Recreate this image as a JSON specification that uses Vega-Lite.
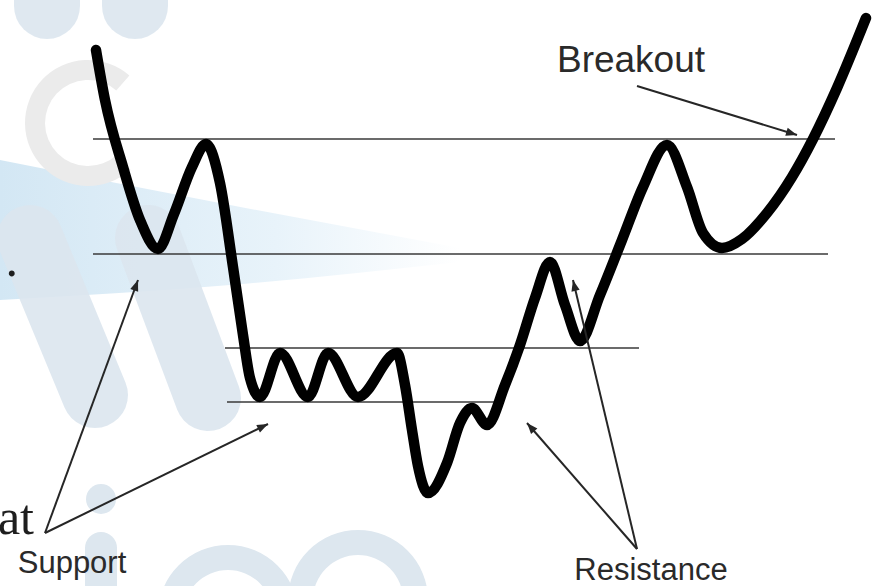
{
  "$schema": "https://vega.github.io/schema/vega-lite/v6.json",
  "width": 877,
  "height": 586,
  "autosize": {"type": "none"},
  "padding": 0,
  "background": "white",
  "config": {"view": {"stroke": null}},
  "datasets": {
    "curve": [
      {"x": 96, "y": 50}, {"x": 105, "y": 100}, {"x": 123, "y": 167}, {"x": 140, "y": 220}, {"x": 158, "y": 249},
      {"x": 174, "y": 214}, {"x": 192, "y": 167}, {"x": 206, "y": 144}, {"x": 220, "y": 183}, {"x": 233, "y": 267},
      {"x": 243, "y": 335}, {"x": 250, "y": 378}, {"x": 260, "y": 397}, {"x": 280, "y": 353}, {"x": 308, "y": 397},
      {"x": 328, "y": 353}, {"x": 358, "y": 397}, {"x": 397, "y": 353}, {"x": 405, "y": 385}, {"x": 412, "y": 430},
      {"x": 418, "y": 466}, {"x": 428, "y": 493}, {"x": 447, "y": 463}, {"x": 460, "y": 423}, {"x": 472, "y": 408},
      {"x": 487, "y": 425}, {"x": 505, "y": 385}, {"x": 520, "y": 345}, {"x": 535, "y": 298}, {"x": 550, "y": 262},
      {"x": 565, "y": 305}, {"x": 580, "y": 341}, {"x": 600, "y": 295}, {"x": 622, "y": 240}, {"x": 643, "y": 187},
      {"x": 667, "y": 145}, {"x": 687, "y": 187}, {"x": 703, "y": 233}, {"x": 722, "y": 248}, {"x": 742, "y": 239},
      {"x": 767, "y": 213}, {"x": 792, "y": 177}, {"x": 813, "y": 139}, {"x": 837, "y": 88}, {"x": 866, "y": 18}
    ],
    "levels": [
      {"x": 93, "x2": 835, "y": 139},
      {"x": 93, "x2": 828, "y": 254},
      {"x": 225, "x2": 639, "y": 348},
      {"x": 227, "x2": 497, "y": 402}
    ],
    "arrows": [
      {"name": "Breakout", "x": 637, "y": 86, "x2": 797, "y2": 135},
      {"name": "Support", "x": 45, "y": 533, "x2": 138, "y2": 280},
      {"name": "Support", "x": 45, "y": 533, "x2": 268, "y2": 424},
      {"name": "Resistance", "x": 637, "y": 549, "x2": 527, "y2": 423},
      {"name": "Resistance", "x": 637, "y": 549, "x2": 573, "y2": 280}
    ],
    "bigLabels": [
      {"x": 631, "y": 72, "label": "Breakout"}
    ],
    "labels": [
      {"x": 72, "y": 573, "label": "Support"},
      {"x": 651, "y": 580, "label": "Resistance"}
    ],
    "serif": [
      {"x": 34, "y": 534, "label": "at"},
      {"x": 18, "y": 276, "label": "."}
    ],
    "band": [
      {"x": 0, "top": 160, "bottom": 300},
      {"x": 230, "top": 205, "bottom": 285},
      {"x": 460, "top": 248, "bottom": 262}
    ],
    "wmFat": [
      {"x": 47, "y": -40, "x2": 47, "y2": 6},
      {"x": 135, "y": -40, "x2": 135, "y2": 6},
      {"x": 30, "y": 238, "x2": 95, "y2": 395},
      {"x": 148, "y": 238, "x2": 208, "y2": 398}
    ],
    "wmThin": [
      {"x": 101, "y": 548, "x2": 101, "y2": 640}
    ],
    "wmDot": [
      {"x": 101, "y": 499}
    ],
    "wmRing": [
      {"x": 358, "y": 600},
      {"x": 228, "y": 615}
    ],
    "wmC": [
      {"x": 88, "y": 123}
    ]
  },
  "encoding": {
    "x": {"type": "quantitative", "scale": {"domain": [0, 877], "nice": false, "zero": false}, "axis": null},
    "y": {"type": "quantitative", "scale": {"domain": [0, 586], "nice": false, "zero": false, "reverse": true}, "axis": null}
  },
  "layer": [
    {
      "data": {"name": "band"},
      "mark": {"type": "area", "interpolate": "monotone", "color": {"gradient": "linear", "x1": 0, "y1": 0, "x2": 1, "y2": 0, "stops": [{"offset": 0, "color": "#d3e7f4"}, {"offset": 0.6, "color": "#e8f3fa"}, {"offset": 1, "color": "#ffffff"}]}},
      "encoding": {"x": {"field": "x"}, "y": {"field": "top"}, "y2": {"field": "bottom"}}
    },
    {
      "data": {"name": "wmFat"},
      "mark": {"type": "rule", "strokeWidth": 66, "strokeCap": "round", "color": "#dbe5ee", "clip": false, "opacity": 0.9},
      "encoding": {"x": {"field": "x"}, "y": {"field": "y"}, "x2": {"field": "x2"}, "y2": {"field": "y2"}}
    },
    {
      "data": {"name": "wmThin"},
      "mark": {"type": "rule", "strokeWidth": 32, "strokeCap": "round", "color": "#dde7ef"},
      "encoding": {"x": {"field": "x"}, "y": {"field": "y"}, "x2": {"field": "x2"}, "y2": {"field": "y2"}}
    },
    {
      "data": {"name": "wmDot"},
      "mark": {"type": "point", "shape": "circle", "filled": true, "size": 900, "color": "#dde7ef", "opacity": 1},
      "encoding": {"x": {"field": "x"}, "y": {"field": "y"}}
    },
    {
      "data": {"name": "wmRing"},
      "mark": {"type": "arc", "theta": 0, "theta2": 6.2832, "innerRadius": 45, "outerRadius": 70, "color": "#dde7ef"},
      "encoding": {"x": {"field": "x"}, "y": {"field": "y"}}
    },
    {
      "data": {"name": "wmC"},
      "mark": {"type": "arc", "theta": 2.4, "theta2": 7.0, "innerRadius": 43, "outerRadius": 63, "color": "#ebebeb"},
      "encoding": {"x": {"field": "x"}, "y": {"field": "y"}}
    },
    {
      "data": {"name": "levels"},
      "mark": {"type": "rule", "color": "#3a3a3a", "strokeWidth": 1.3},
      "encoding": {"x": {"field": "x"}, "x2": {"field": "x2"}, "y": {"field": "y"}}
    },
    {
      "data": {"name": "curve"},
      "mark": {"type": "line", "color": "black", "strokeWidth": 10.5, "strokeCap": "round", "strokeJoin": "round", "interpolate": "monotone"},
      "encoding": {"x": {"field": "x"}, "y": {"field": "y"}}
    },
    {
      "data": {"name": "arrows"},
      "mark": {"type": "rule", "color": "#262626", "strokeWidth": 2},
      "encoding": {"x": {"field": "x"}, "y": {"field": "y"}, "x2": {"field": "x2"}, "y2": {"field": "y2"}}
    },
    {
      "data": {"name": "arrows"},
      "transform": [
        {"calculate": "atan2(datum.x2 - datum.x, -(datum.y2 - datum.y)) * 180 / PI", "as": "ang"}
      ],
      "mark": {"type": "point", "shape": "M0,0L0.38,1L-0.38,1Z", "filled": true, "size": 484, "color": "#262626", "opacity": 1},
      "encoding": {
        "x": {"field": "x2"},
        "y": {"field": "y2"},
        "angle": {"field": "ang", "type": "quantitative", "scale": null}
      }
    },
    {
      "data": {"name": "bigLabels"},
      "mark": {"type": "text", "font": "Liberation Sans", "fontSize": 37, "color": "#2a2a2a", "align": "center", "baseline": "alphabetic"},
      "encoding": {"x": {"field": "x"}, "y": {"field": "y"}, "text": {"field": "label"}}
    },
    {
      "data": {"name": "labels"},
      "mark": {"type": "text", "font": "Liberation Sans", "fontSize": 31, "color": "#2a2a2a", "align": "center", "baseline": "alphabetic"},
      "encoding": {"x": {"field": "x"}, "y": {"field": "y"}, "text": {"field": "label"}}
    },
    {
      "data": {"name": "serif"},
      "mark": {"type": "text", "font": "Liberation Serif", "fontSize": 50, "color": "#1e1e1e", "align": "right", "baseline": "alphabetic"},
      "encoding": {"x": {"field": "x"}, "y": {"field": "y"}, "text": {"field": "label"}}
    }
  ]
}
